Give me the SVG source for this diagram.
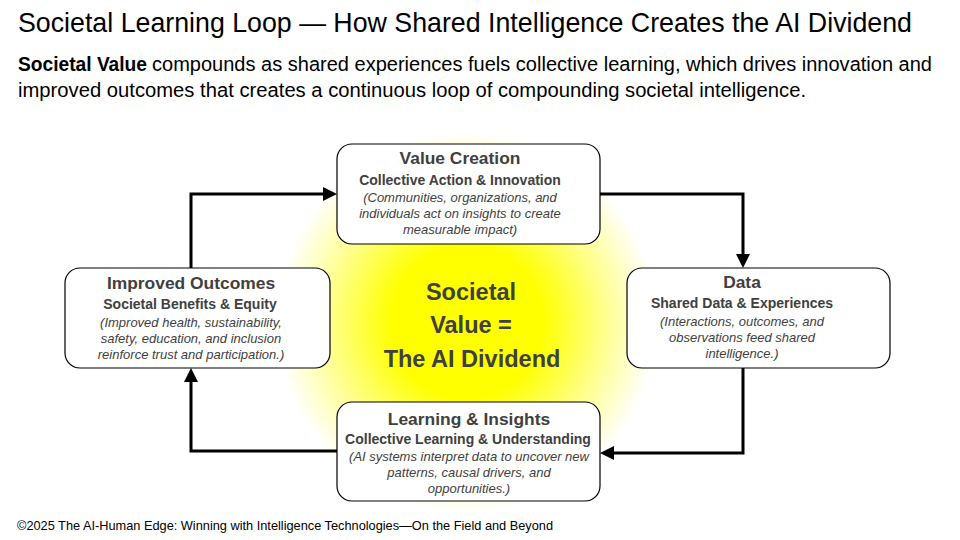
<svg xmlns="http://www.w3.org/2000/svg" width="960" height="540" viewBox="0 0 960 540">
<style>
.hd{font-family:"Liberation Sans",Arial,sans-serif;fill:#000}
.box{fill:#fff;stroke:#000;stroke-width:1.2}
.t{font-family:"Liberation Sans",Arial,sans-serif;font-weight:bold;font-size:17.4px;fill:#404040;text-anchor:middle}
.s{font-family:"Liberation Sans",Arial,sans-serif;font-weight:bold;font-size:14px;fill:#404040;text-anchor:middle}
.i{font-family:"Liberation Sans",Arial,sans-serif;font-style:italic;font-size:13px;fill:#404040;text-anchor:middle}
.c{font-family:"Liberation Sans",Arial,sans-serif;font-weight:bold;font-size:23.5px;fill:#404040;text-anchor:middle}
.cn{fill:none;stroke:#000;stroke-width:3;marker-end:url(#ah)}
</style>
<defs>
<radialGradient id="glow" cx="0.5" cy="0.5" r="0.5">
<stop offset="0" stop-color="#FFFF00" stop-opacity="1"/>
<stop offset="0.4" stop-color="#FFFF00" stop-opacity="1"/>
<stop offset="0.75" stop-color="#FFFF00" stop-opacity="0.4"/>
<stop offset="1" stop-color="#FFFF00" stop-opacity="0"/>
</radialGradient>
<marker id="ah" viewBox="0 0 14 14" refX="4" refY="7" markerWidth="14" markerHeight="14" markerUnits="userSpaceOnUse" orient="auto">
<path d="M0,0 L14,7 L0,14 z" fill="#000"/>
</marker>
</defs>
<rect width="960" height="540" fill="#fff"/>
<text class="hd" x="18" y="32" font-size="28" textLength="894" lengthAdjust="spacingAndGlyphs">Societal Learning Loop — How Shared Intelligence Creates the AI Dividend</text>
<text class="hd" x="18" y="71" font-size="20" font-weight="bold" textLength="129" lengthAdjust="spacingAndGlyphs">Societal Value</text>
<text class="hd" x="152" y="71" font-size="20" textLength="780" lengthAdjust="spacingAndGlyphs">compounds as shared experiences fuels collective learning, which drives innovation and</text>
<text class="hd" x="18" y="97" font-size="20" textLength="788" lengthAdjust="spacingAndGlyphs">improved outcomes that creates a continuous loop of compounding societal intelligence.</text>
<text class="hd" x="17" y="530" font-size="13" textLength="536" lengthAdjust="spacingAndGlyphs">©2025 The AI-Human Edge: Winning with Intelligence Technologies—On the Field and Beyond</text>

<g id="center">
<circle cx="467" cy="322" r="190" fill="url(#glow)"/>
<text class="c" x="471" y="300">Societal</text>
<text class="c" x="471" y="333">Value =</text>
<text class="c" x="472" y="367">The AI Dividend</text>
</g>

<g id="connectors">
<path class="cn" d="M191,268 V194 H327"/>
<path class="cn" d="M600,194 H743 V258"/>
<path class="cn" d="M743,368 V453 H610"/>
<path class="cn" d="M337,451 H191 V378"/>
</g>

<g id="value-creation">
<rect class="box" x="337" y="144" width="263" height="100" rx="15"/>
<text class="t" x="460" y="164">Value Creation</text>
<text class="s" x="460" y="185">Collective Action &amp; Innovation</text>
<text class="i" x="460" y="202">(Communities, organizations, and</text>
<text class="i" x="460" y="218">individuals act on insights to create</text>
<text class="i" x="460" y="234">measurable impact)</text>
</g>

<g id="improved-outcomes">
<rect class="box" x="65" y="268" width="265" height="100" rx="15"/>
<text class="t" x="191" y="289">Improved Outcomes</text>
<text class="s" x="190" y="309">Societal Benefits &amp; Equity</text>
<text class="i" x="191" y="327">(Improved health, sustainability,</text>
<text class="i" x="191" y="343">safety, education, and inclusion</text>
<text class="i" x="191" y="359">reinforce trust and participation.)</text>
</g>

<g id="data">
<rect class="box" x="627" y="268" width="263" height="100" rx="15"/>
<text class="t" x="742" y="288">Data</text>
<text class="s" x="742" y="308">Shared Data &amp; Experiences</text>
<text class="i" x="742" y="326">(Interactions, outcomes, and</text>
<text class="i" x="742" y="342">observations feed shared</text>
<text class="i" x="742" y="358">intelligence.)</text>
</g>

<g id="learning-insights">
<rect class="box" x="337" y="402" width="263" height="99" rx="15"/>
<text class="t" x="469" y="425">Learning &amp; Insights</text>
<text class="s" x="468" y="444">Collective Learning &amp; Understanding</text>
<text class="i" x="469" y="461">(AI systems interpret data to uncover new</text>
<text class="i" x="469" y="477">patterns, causal drivers, and</text>
<text class="i" x="469" y="493">opportunities.)</text>
</g>
</svg>
